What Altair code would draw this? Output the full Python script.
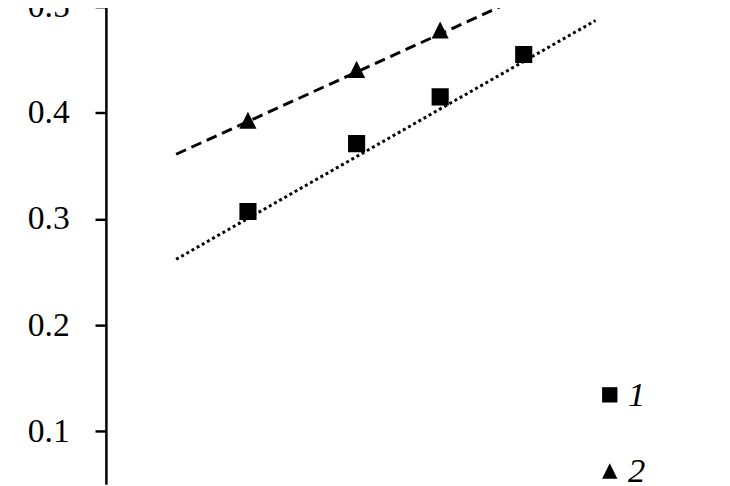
import altair as alt
import pandas as pd

# ---- data ----
series_names = ["1", "2"]
x_points = [1.7, 3.0, 4.0, 5.0]
y_series1 = [0.307, 0.371, 0.415, 0.455]
y_series2 = [0.393, 0.441, 0.478, 0.514]

# trend lines (end points)
trend_x = [0.84, 5.86]
trend1_y = [0.262, 0.487]
trend2_y = [0.361, 0.541]

y_ticks = [0.1, 0.2, 0.3, 0.4, 0.5]

points = pd.DataFrame({
    "x": x_points + x_points,
    "y": y_series1 + y_series2,
    "series": [series_names[0]] * len(x_points) + [series_names[1]] * len(x_points),
})
trend = pd.DataFrame({
    "x": trend_x + trend_x,
    "y": trend1_y + trend2_y,
    "trend": ["t" + series_names[0]] * 2 + ["t" + series_names[1]] * 2,
})

PX_X = 84.5          # pixels per x unit
PX_Y = 1072.5        # pixels per y unit
W = 623
Y_MIN, Y_MAX = 0.05, 0.5
H = round((Y_MAX - Y_MIN) * PX_Y)

xs = alt.Scale(domain=[0, W / PX_X], nice=False, zero=False)
ys = alt.Scale(domain=[Y_MIN, Y_MAX], nice=False, zero=False)

y_axis = alt.Axis(
    values=y_ticks, format=".1f", grid=False, title=None,
    domainColor="black", domainWidth=2.5, tickColor="black", tickWidth=2.5,
    tickSize=11, labelPadding=26, labelFont="Liberation Serif",
    labelFontSize=34, labelColor="black", labelOverlap=False, labelFlush=False,
)

lines = alt.Chart(trend).mark_line(strokeWidth=3, color="black", clip=True).encode(
    x=alt.X("x:Q", scale=xs, axis=None),
    y=alt.Y("y:Q", scale=ys, axis=y_axis),
    strokeDash=alt.StrokeDash(
        "trend:N",
        scale=alt.Scale(domain=["t1", "t2"], range=[[3, 3], [11, 6]]),
        legend=None,
    ),
    detail="trend:N",
)

pts = alt.Chart(points).mark_point(filled=True, opacity=1, color="black", size=300, clip=True).encode(
    x=alt.X("x:Q", scale=xs, axis=None),
    y=alt.Y("y:Q", scale=ys, axis=y_axis),
    shape=alt.Shape(
        "series:N",
        scale=alt.Scale(domain=series_names, range=["square", "M0,-1L-1,1L1,1Z"]),
        legend=alt.Legend(
            title=None, orient="none", legendX=492, legendY=375,
            labelFont="Liberation Serif", labelFontSize=35, labelFontStyle="italic",
            labelColor="black", symbolSize=240, symbolFillColor="black",
            symbolStrokeColor="black", symbolStrokeWidth=0, symbolOpacity=1,
            rowPadding=41, labelOffset=1, padding=0,
        ),
    ),
)

chart = alt.layer(lines, pts).resolve_legend(strokeDash="independent").properties(
    width=W, height=H,
    autosize=alt.AutoSizeParams(type="none"),
    padding={"left": 99, "top": -4, "right": 0, "bottom": 0},
    background="white",
).configure_view(stroke=None)

chart.save("out.html", embed_options={"renderer": "svg", "actions": False})
